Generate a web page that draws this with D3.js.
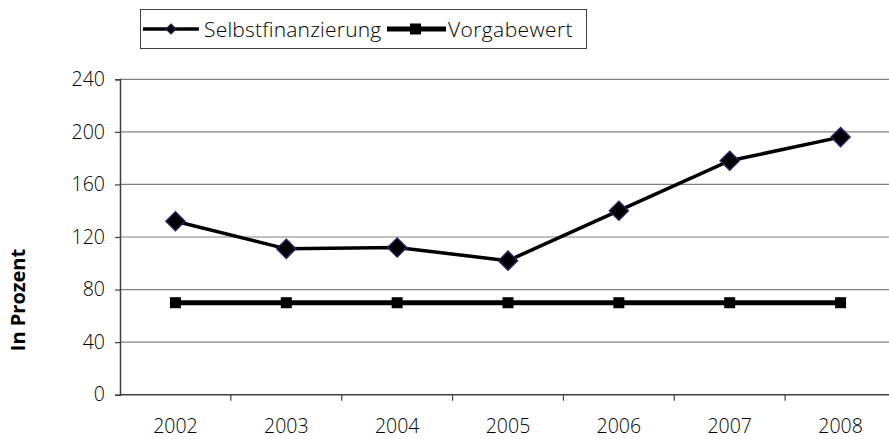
<!DOCTYPE html>
<html lang="de">
<head>
<meta charset="UTF-8">
<title>Selbstfinanzierung</title>
<script src="https://d3js.org/d3.v7.min.js"></script>
<style>
  body { margin: 0; background: #fff; }
  text { font-family: "Open Sans", "Noto Sans", sans-serif; fill: #000; }
  .lt text, text.lt { font-weight: 300; }
</style>
</head>
<body>
<div id="chart"></div>
<script>
// data
const years = ["2002", "2003", "2004", "2005", "2006", "2007", "2008"];
const selbstfinanzierung = [132, 111, 112, 102, 140, 178, 196];
const vorgabewert = [70, 70, 70, 70, 70, 70, 70];
const yTicks = [0, 40, 80, 120, 160, 200, 240];

const W = 889, H = 439;
const FS = 19.5;
const svg = d3.select("#chart").append("svg")
  .attr("width", W).attr("height", H);

// plot area (runs past the right edge like the original)
const plotLeft = 120, plotRight = 896, plotTop = 79.3, plotBottom = 394.7;

const x = d3.scaleBand().domain(years).range([plotLeft, plotRight]);
const y = d3.scaleLinear().domain([0, 240]).range([plotBottom, plotTop]);

// gridlines
svg.append("g").selectAll("line")
  .data(yTicks.filter(d => d > 0))
  .enter().append("line")
    .attr("x1", plotLeft).attr("x2", W)
    .attr("y1", d => y(d)).attr("y2", d => y(d))
    .attr("stroke", "#808080").attr("stroke-width", 1.2);

// y axis
const yAxis = svg.append("g").attr("class", "lt")
  .attr("transform", `translate(${plotLeft},0)`)
  .call(d3.axisLeft(y).tickValues(yTicks).tickSize(5).tickPadding(10));
yAxis.attr("font-size", FS).attr("font-family", null);
yAxis.select(".domain").attr("stroke", "#404040").attr("stroke-width", 1.5);
yAxis.selectAll(".tick line").attr("stroke", "#404040").attr("stroke-width", 1.2);

// x axis
const xAxis = svg.append("g").attr("class", "lt")
  .attr("transform", `translate(0,${plotBottom})`)
  .call(d3.axisBottom(x).tickSize(0).tickPadding(24));
xAxis.attr("font-size", FS).attr("font-family", null);
xAxis.select(".domain").remove();
xAxis.append("line")
  .attr("x1", plotLeft).attr("x2", W).attr("y1", 0).attr("y2", 0)
  .attr("stroke", "#404040").attr("stroke-width", 1.5);
xAxis.selectAll(".bound")
  .data(years.slice(1))
  .enter().append("line")
    .attr("x1", d => x(d)).attr("x2", d => x(d))
    .attr("y1", 0).attr("y2", 6)
    .attr("stroke", "#404040").attr("stroke-width", 1.2);

// y axis title
svg.append("text")
  .attr("transform", `translate(25,300) rotate(-90)`)
  .attr("text-anchor", "middle")
  .attr("font-size", 20).attr("font-weight", "bold")
  .text("In Prozent");

const cx = d => x(d) + x.bandwidth() / 2;
const line = d3.line();

// Vorgabewert
svg.append("path")
  .attr("d", line(years.map((d, i) => [cx(d), y(vorgabewert[i])])))
  .attr("fill", "none").attr("stroke", "#000").attr("stroke-width", 5);
svg.selectAll(".sq")
  .data(years)
  .enter().append("rect")
    .attr("x", d => cx(d) - 5.5)
    .attr("y", (d, i) => y(vorgabewert[i]) - 5.5)
    .attr("width", 11).attr("height", 11)
    .attr("fill", "#000");

// Selbstfinanzierung
svg.append("path")
  .attr("d", line(years.map((d, i) => [cx(d), y(selbstfinanzierung[i])])))
  .attr("fill", "none").attr("stroke", "#000").attr("stroke-width", 3.5);
const diamond = "M0,-9.5L9.5,0L0,9.5L-9.5,0Z";
svg.selectAll(".dm")
  .data(years)
  .enter().append("path")
    .attr("d", diamond)
    .attr("transform", (d, i) => `translate(${cx(d)},${y(selbstfinanzierung[i])})`)
    .attr("fill", "#000").attr("stroke", "#23235f").attr("stroke-width", 1.5);

// legend
const lg = svg.append("g").attr("class", "lt");
lg.append("rect")
  .attr("x", 140.5).attr("y", 9.5).attr("width", 446).attr("height", 39)
  .attr("fill", "#fff").attr("stroke", "#404040").attr("stroke-width", 1);
lg.append("line")
  .attr("x1", 143).attr("x2", 199).attr("y1", 29).attr("y2", 29)
  .attr("stroke", "#000").attr("stroke-width", 3.5);
lg.append("path")
  .attr("d", "M0,-5L5,0L0,5L-5,0Z")
  .attr("transform", "translate(171,29)")
  .attr("fill", "#000").attr("stroke", "#23235f").attr("stroke-width", 1.2);
lg.append("text").attr("x", 204).attr("y", 37).attr("font-size", 21)
  .attr("letter-spacing", 0.2)
  .text("Selbstfinanzierung");
lg.append("line")
  .attr("x1", 387).attr("x2", 446).attr("y1", 29).attr("y2", 29)
  .attr("stroke", "#000").attr("stroke-width", 5);
lg.append("rect")
  .attr("x", 410).attr("y", 23.5).attr("width", 11).attr("height", 11)
  .attr("fill", "#000");
lg.append("text").attr("x", 448).attr("y", 37).attr("font-size", 21)
  .attr("letter-spacing", 0.4)
  .text("Vorgabewert");
</script>
</body>
</html>
